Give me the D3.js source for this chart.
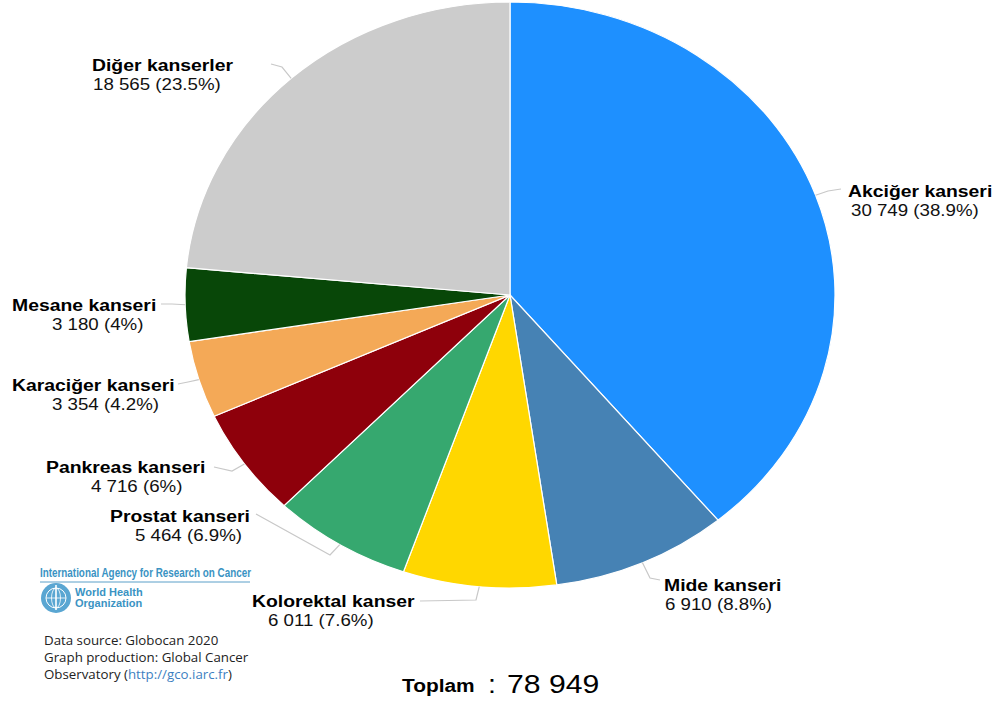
<!DOCTYPE html>
<html>
<head>
<meta charset="utf-8">
<script src="https://cdn.jsdelivr.net/npm/d3@7"></script>
<style>
  html, body { margin: 0; padding: 0; background: #fff; }
  svg { display: block; }
</style>
</head>
<body>
<svg id="chart" width="1005" height="704"></svg>
<script>
// Cancer deaths by site, Globocan 2020
const categories = ["Akciğer kanseri", "Mide kanseri", "Kolorektal kanser", "Prostat kanseri",
                    "Pankreas kanseri", "Karaciğer kanseri", "Mesane kanseri", "Diğer kanserler"];
const values = [30749, 6910, 6011, 5464, 4716, 3354, 3180, 18565];
const colors = ["#1e90ff", "#4682b4", "#ffd700", "#36a86f", "#8e000b", "#f4a957", "#084708", "#cccccc"];
const totalLabel = "Toplam";

// Label placement: first-line origin, second-line x, connector bend and end points
const labelLayout = [
  { x: 848, y: 197, x2: 851, bend: [828, 191], end: [841, 189] },
  { x: 664, y: 591, x2: 665, bend: [650, 578], end: [660, 580] },
  { x: 252, y: 607, x2: 268, bend: [476, 600], end: [420, 601] },
  { x: 110, y: 522, x2: 135, bend: [330, 555], end: [256, 514] },
  { x: 46,  y: 473, x2: 91,  bend: [232, 471], end: [214, 467] },
  { x: 12,  y: 391, x2: 52,  bend: [188, 382], end: [178, 384] },
  { x: 12,  y: 311, x2: 52,  bend: [172, 304], end: [161, 304] },
  { x: 92,  y: 71,  x2: 93,  bend: [282, 67],  end: [271, 64] }
];

const svg = d3.select("#chart");
const cx = 510, cy = 295, rx = 325, ry = 293;

const locale = d3.formatLocale({ decimal: ".", thousands: " ", grouping: [3], currency: ["", ""] });
const fmtNum = locale.format(",d");
const total = d3.sum(values);
const fmtPct = v => {
  const s = d3.format(".1f")(v / total * 100);
  return (s.endsWith(".0") ? s.slice(0, -2) : s) + "%";
};

const pie = d3.pie().sort(null).value(d => d)(values);
const arc = d3.arc().innerRadius(0).outerRadius(ry);

// Pie drawn as an ellipse by stretching the group horizontally
const pieG = svg.append("g")
  .attr("transform", `translate(${cx},${cy}) scale(${rx / ry},1)`);
pieG.selectAll("path")
  .data(pie)
  .join("path")
  .attr("d", arc)
  .attr("fill", (d, i) => colors[i])
  .attr("stroke", "#ffffff")
  .attr("stroke-width", 1.2)
  .attr("vector-effect", "non-scaling-stroke");

// Connectors from slice edge to label
const line = d3.line();
pie.forEach((d, i) => {
  const a = (d.startAngle + d.endAngle) / 2;
  const edge = [cx + rx * Math.sin(a), cy - ry * Math.cos(a)];
  const L = labelLayout[i];
  svg.append("path")
    .attr("d", line([edge, L.bend, L.end]))
    .attr("fill", "none")
    .attr("stroke", "#c8c8c8")
    .attr("stroke-width", 1.2);
});

// Text helper with horizontal stretch
function stretchedText(g, x, y, txt, opts) {
  return g.append("text")
    .attr("transform", `translate(${x},${y}) scale(${opts.sx || 1},1)`)
    .attr("font-family", opts.family || "Liberation Sans, Arial, sans-serif")
    .attr("font-size", opts.size)
    .attr("font-weight", opts.weight || "normal")
    .attr("fill", opts.fill || "#000")
    .text(txt);
}

const labels = svg.append("g");
pie.forEach((d, i) => {
  const L = labelLayout[i];
  stretchedText(labels, L.x, L.y, categories[i], { size: 17, weight: "bold", sx: 1.14 });
  stretchedText(labels, L.x2, L.y + 19, `${fmtNum(values[i])} (${fmtPct(values[i])})`,
    { size: 17, sx: 1.1, fill: "#111" });
});

// Total
stretchedText(svg, 402, 692, totalLabel, { size: 18, weight: "bold", sx: 1.16 });
stretchedText(svg, 488, 693, ":", { size: 26, sx: 1.1 });
stretchedText(svg, 507, 693, fmtNum(total), { size: 26, sx: 1.16 });

// IARC / WHO logo block
const logo = svg.append("g");
logo.append("text")
  .attr("x", 40).attr("y", 577)
  .attr("font-family", "Liberation Sans Narrow, Liberation Sans, Arial, sans-serif")
  .attr("font-size", 12).attr("font-weight", "bold")
  .attr("fill", "#3a93c3")
  .attr("textLength", 211).attr("lengthAdjust", "spacingAndGlyphs")
  .text("International Agency for Research on Cancer");
logo.append("line")
  .attr("x1", 40).attr("x2", 250).attr("y1", 582).attr("y2", 582)
  .attr("stroke", "#5a9fc8").attr("stroke-width", 1);

const emb = logo.append("g").attr("transform", "translate(56,598)");
emb.append("circle").attr("r", 15).attr("fill", "#5aa6d2");
emb.append("circle").attr("r", 10).attr("fill", "none").attr("stroke", "#fff").attr("stroke-width", 1);
emb.append("ellipse").attr("rx", 4.5).attr("ry", 10).attr("fill", "none").attr("stroke", "#fff").attr("stroke-width", 0.8);
emb.append("line").attr("x1", -10).attr("x2", 10).attr("stroke", "#fff").attr("stroke-width", 0.8);
emb.append("line").attr("y1", -13).attr("y2", 12).attr("stroke", "#fff").attr("stroke-width", 1.6);

logo.append("text")
  .attr("x", 75).attr("y", 596)
  .attr("font-family", "Liberation Sans Narrow, Liberation Sans, Arial, sans-serif")
  .attr("font-size", 11).attr("font-weight", "bold").attr("fill", "#3a93c3")
  .text("World Health");
logo.append("text")
  .attr("x", 75).attr("y", 607)
  .attr("font-family", "Liberation Sans Narrow, Liberation Sans, Arial, sans-serif")
  .attr("font-size", 11).attr("font-weight", "bold").attr("fill", "#3a93c3")
  .text("Organization");

// Source notes
const notes = svg.append("g")
  .attr("font-family", "Open Sans, DejaVu Sans, sans-serif")
  .attr("font-size", 13.3).attr("fill", "#222");
notes.append("text").attr("x", 44).attr("y", 645).text("Data source: Globocan 2020");
notes.append("text").attr("x", 44).attr("y", 662).text("Graph production: Global Cancer");
const obs = notes.append("text").attr("x", 44).attr("y", 679);
obs.append("tspan").text("Observatory (");
obs.append("tspan").attr("fill", "#3d7fc1").text("http://gco.iarc.fr");
obs.append("tspan").text(")");
</script>
</body>
</html>
